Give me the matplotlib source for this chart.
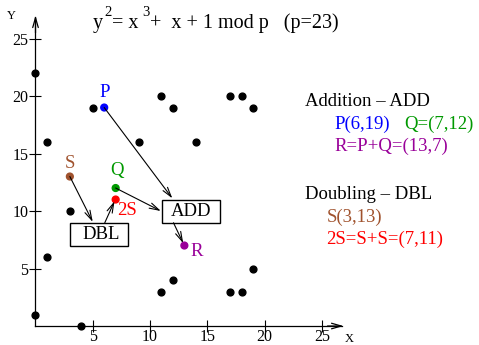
# elliptic curve over F_23 : point addition and doubling sketch
import matplotlib
matplotlib.use('Agg')
import matplotlib.pyplot as plt
from matplotlib.patches import Rectangle

plt.rcParams['font.family'] = 'Liberation Serif'

# points on the curve (black)
curve_x = [0, 5, 11, 12, 17, 18, 19, 1, 9, 14, 3, 1, 0, 4, 11, 12, 17, 18, 19]
curve_y = [22, 19, 20, 19, 20, 20, 19, 16, 16, 16, 10, 6, 1, 0, 3, 4, 3, 3, 5]

# highlighted points
pt_names = ['P', 'Q', 'R', 'S', '2S']
pt_x = [6, 7, 13, 3, 7]
pt_y = [19, 12, 7, 13, 11]
pt_colors = ['#0000ff', '#009900', '#990099', '#a0522d', '#ff0000']

ticks = [5, 10, 15, 20, 25]

W, H = 479, 345
fig = plt.figure(figsize=(W / 100, H / 100), dpi=100)
ax = fig.add_axes([0, 0, 1, 1])
ax.set_xlim(-3.10, 38.73)
ax.set_ylim(-1.65, 28.35)

for s in ['top', 'right']:
    ax.spines[s].set_visible(False)
ax.spines['left'].set_position(('data', 0))
ax.spines['bottom'].set_position(('data', 0))
ax.spines['left'].set_bounds(0, 26.9)
ax.spines['bottom'].set_bounds(0, 26.8)
ax.spines['left'].set_linewidth(0.9)
ax.spines['bottom'].set_linewidth(0.9)
ax.set_xticks(ticks)
ax.set_yticks(ticks)
ax.tick_params(direction='inout', length=9, width=0.8, labelsize=11.5)
ax.tick_params(axis='x', pad=-2.5)
ax.tick_params(axis='y', pad=0.5)

# axis arrow heads
arr = dict(arrowstyle='->,head_length=0.7,head_width=0.2', lw=0.9, color='black',
           shrinkA=0, shrinkB=0)
ax.annotate('', xy=(0, 27.0), xytext=(0, 25.5), arrowprops=arr)
ax.annotate('', xy=(26.9, 0), xytext=(25.5, 0), arrowprops=arr)
ax.text(-2.1, 27.0, 'Y', fontsize=9, ha='center', va='center')
ax.text(27.4, -1.1, 'X', fontsize=9, ha='center', va='center')

ax.scatter(curve_x, curve_y, s=24, color='black', zorder=3)
ax.scatter(pt_x, pt_y, s=24, color=pt_colors, zorder=3)

# point labels
offs = {'P': (0, 15, 'center'), 'Q': (1, 18, 'center'), 'S': (0, 13, 'center'),
        '2S': (1, -11, 'left'), 'R': (6, -6, 'left')}
for n, x, y, c in zip(pt_names, pt_x, pt_y, pt_colors):
    dx, dy, ha = offs[n]
    ax.annotate(n, (x, y), xytext=(dx, dy), textcoords='offset pixels',
                color=c, fontsize=13.5, ha=ha, va='center')

# operation boxes
ax.add_patch(Rectangle((3.0, 6.96), 5.05, 2.02, fill=False, lw=1.0, zorder=2))
ax.add_patch(Rectangle((11.07, 8.98), 5.03, 1.98, fill=False, lw=1.0, zorder=2))
ax.text(5.75, 8.0, 'DBL', fontsize=13.5, ha='center', va='center')
ax.text(13.55, 9.95, 'ADD', fontsize=13.5, ha='center', va='center')

# arrows into / out of boxes
a2 = dict(arrowstyle='->,head_length=0.7,head_width=0.2', lw=0.8, color='black',
          shrinkA=0, shrinkB=0)
ax.annotate('', xy=(11.95, 11.1), xytext=(6, 19), arrowprops=a2)
ax.annotate('', xy=(10.95, 10.0), xytext=(7, 12), arrowprops=a2)
ax.annotate('', xy=(12.9, 7.2), xytext=(12.05, 8.98), arrowprops=a2)
ax.annotate('', xy=(5.0, 9.05), xytext=(3, 13), arrowprops=a2)
ax.annotate('', xy=(6.9, 10.85), xytext=(6.05, 8.98), arrowprops=a2)

# title formula, pieces placed in pixels
base = 1 - 28 / H
sup = 1 - 16.5 / H
fig.text(93 / W, base, 'y', fontsize=14.5, va='baseline')
fig.text(104.5 / W, sup, '2', fontsize=10.5, va='baseline')
fig.text(112.5 / W, base, '= x', fontsize=14.5, va='baseline')
fig.text(142.5 / W, sup, '3', fontsize=10.5, va='baseline')
fig.text(150 / W, base, '+  x + 1 mod p   (p=23)', fontsize=14.5, va='baseline')

# legend text on the right
ax.text(23.5, 19.5, 'Addition \u2013 ADD', fontsize=13.5, va='center')
ax.text(26.15, 17.5, 'P(6,19)', fontsize=13.5, va='center', color=pt_colors[0])
ax.text(32.2, 17.5, 'Q=(7,12)', fontsize=13.5, va='center', color=pt_colors[1])
ax.text(26.15, 15.6, 'R=P+Q=(13,7)', fontsize=13.5, va='center', color=pt_colors[2])
ax.text(23.5, 11.4, 'Doubling \u2013 DBL', fontsize=13.5, va='center')
ax.text(25.4, 9.45, 'S(3,13)', fontsize=13.5, va='center', color=pt_colors[3])
ax.text(25.4, 7.5, '2S=S+S=(7,11)', fontsize=13.5, va='center', color=pt_colors[4])

fig.savefig('out.png', dpi=100)
